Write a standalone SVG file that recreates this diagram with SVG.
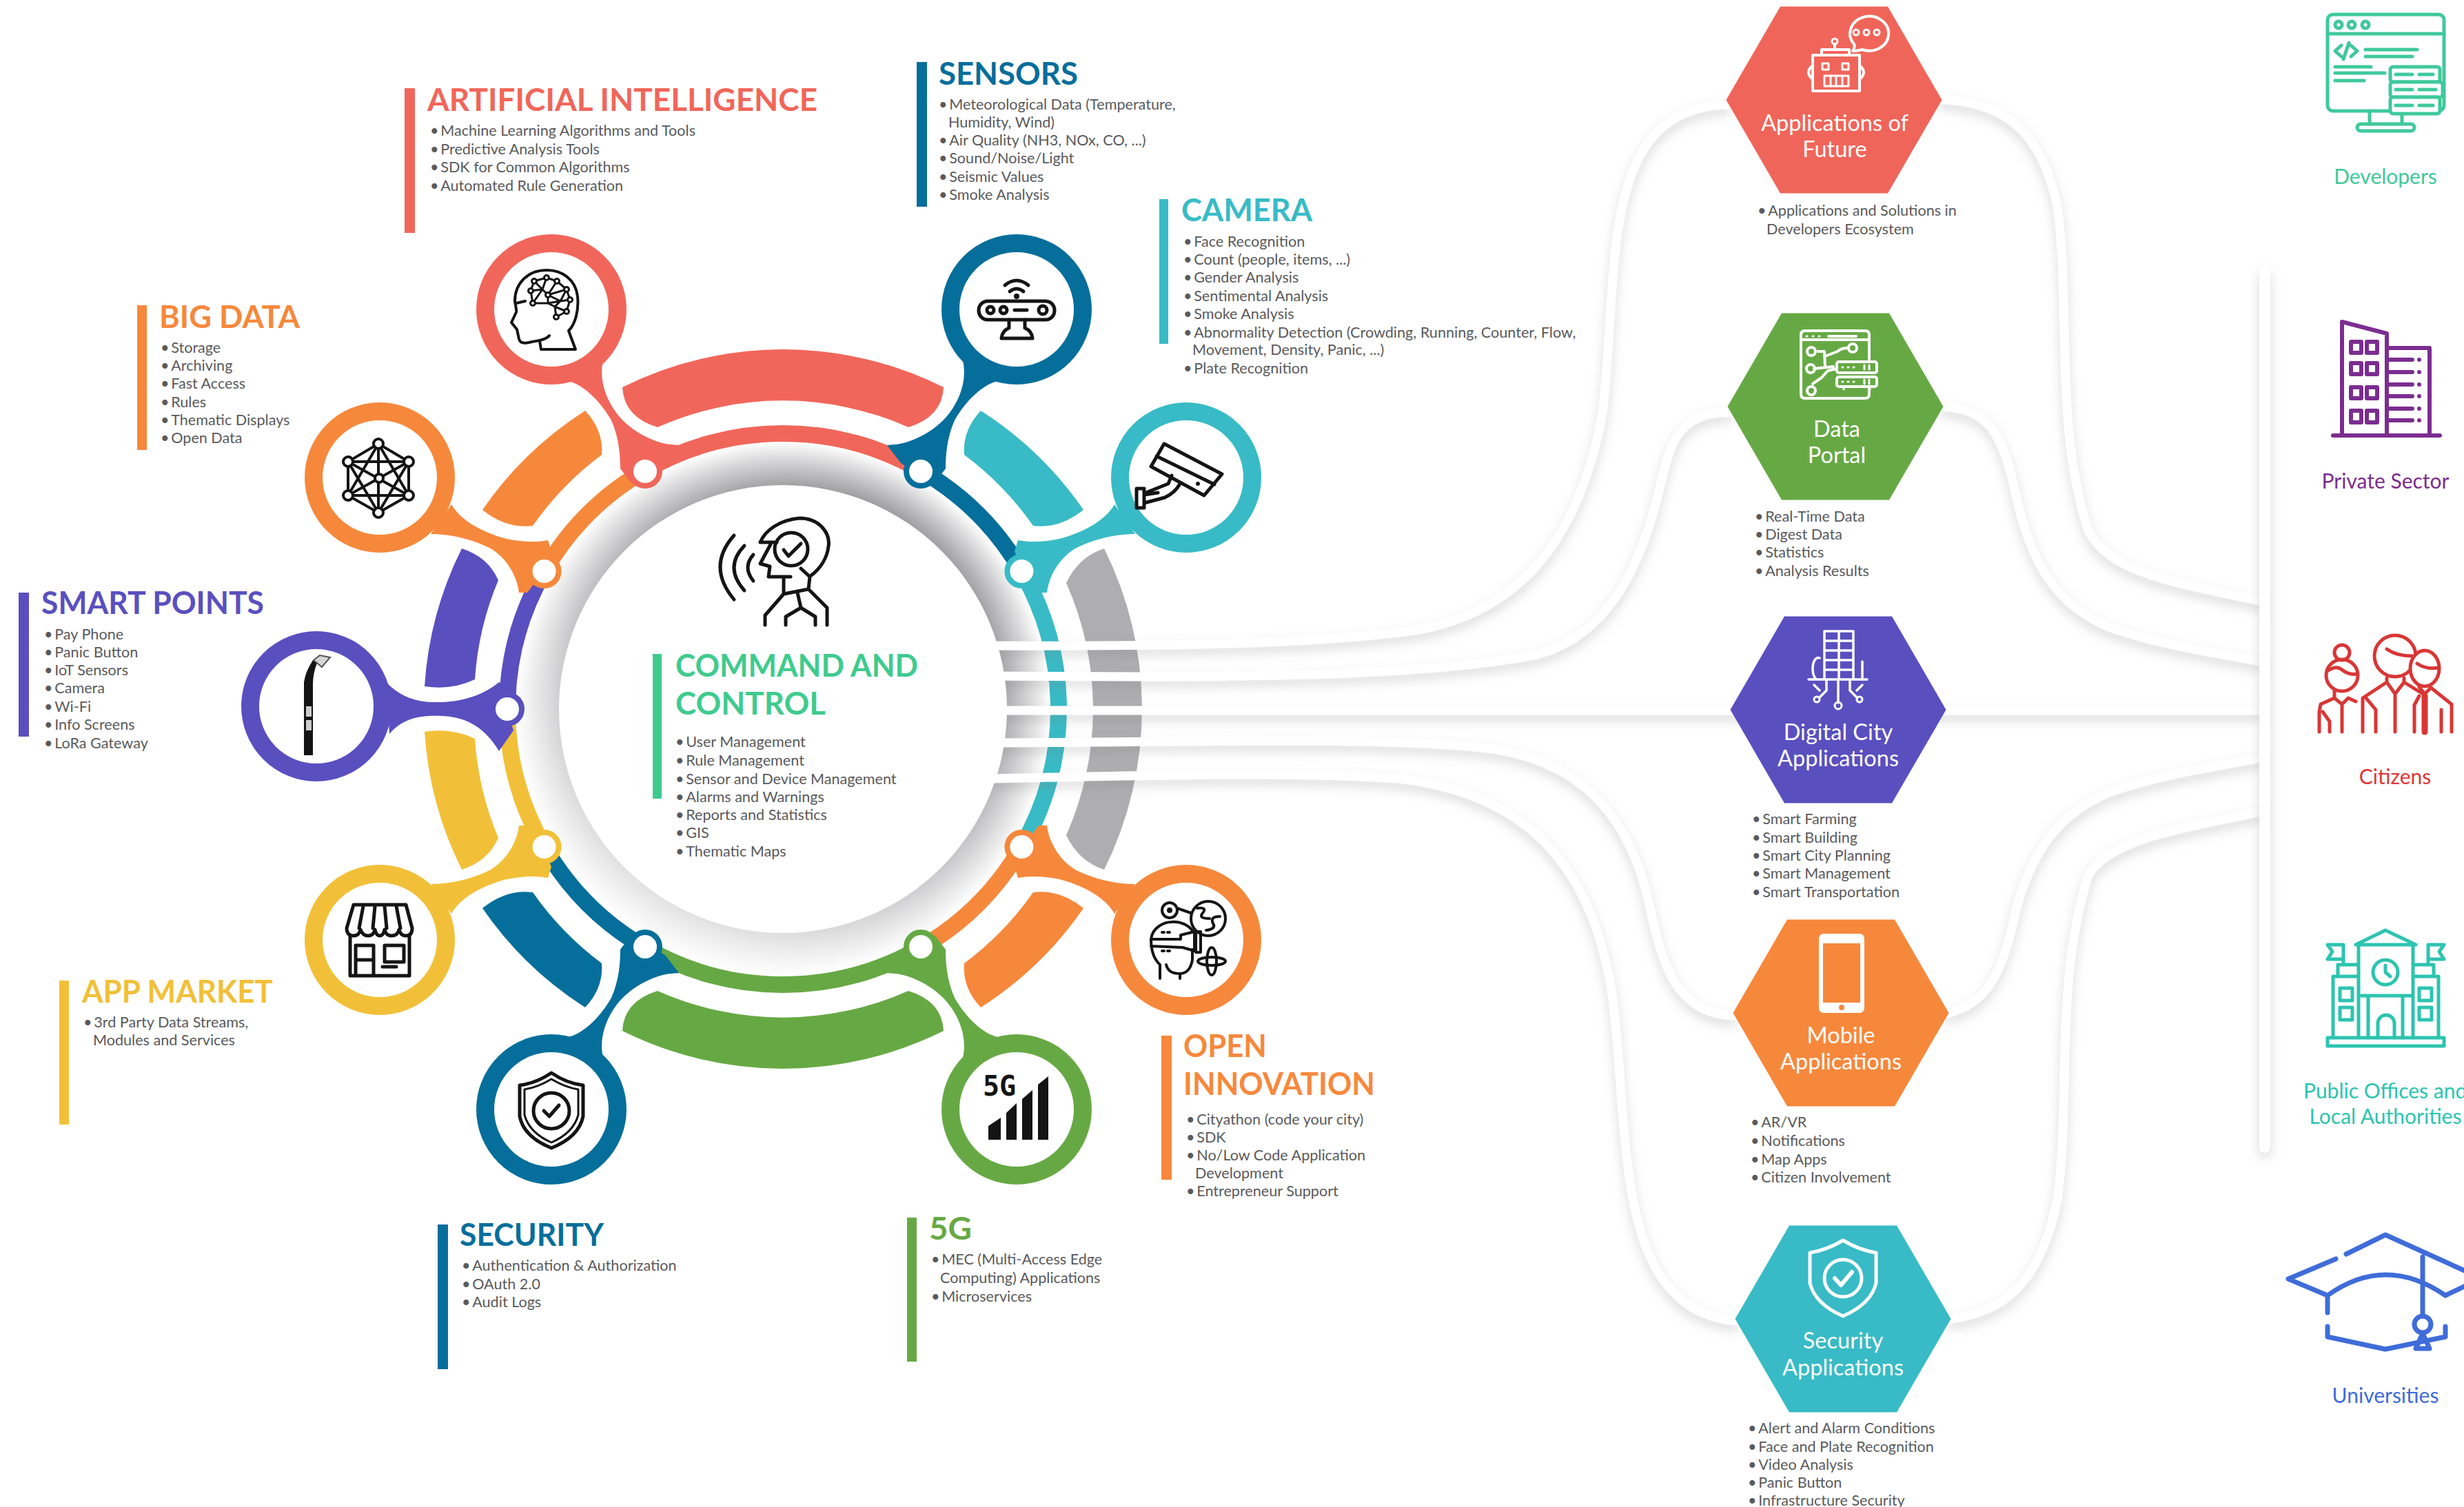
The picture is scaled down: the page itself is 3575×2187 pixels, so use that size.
<svg xmlns="http://www.w3.org/2000/svg" width="3575" height="2187" viewBox="0 0 3575 2187">
<style>
text{font-family:"Lato","Open Sans","Liberation Sans",sans-serif}
.b{font-size:21.6px;fill:#5a5a5c}
.h{font-size:46px;font-weight:700}
.hx{font-size:32.5px;fill:#fff;text-anchor:middle}
.r{font-size:30px;text-anchor:middle}
.ik{fill:none;stroke:#141414;stroke-width:5;stroke-linejoin:round;stroke-linecap:round}
.wi{fill:none;stroke:#fff;stroke-width:4;stroke-linejoin:round;stroke-linecap:round}
.ring{fill:#fff;stroke-width:26}
.dot{fill:#fff;stroke-width:8}
.thin{fill:none;stroke-width:24}
.flow{fill:none;stroke:#fff;stroke-width:13;stroke-linecap:round;filter:url(#sh)}
</style>
<defs>
<filter id="sh" filterUnits="userSpaceOnUse" x="0" y="0" width="3575" height="2187"><feDropShadow dx="0" dy="8" stdDeviation="8" flood-color="#777" flood-opacity=".27"/></filter>
<radialGradient id="halo" gradientUnits="userSpaceOnUse" cx="1136" cy="1029" r="388"><stop offset=".83" stop-color="#929296"/><stop offset="1" stop-color="#fff"/></radialGradient>
<linearGradient id="fade" gradientUnits="userSpaceOnUse" x1="1336" y1="680" x2="936" y2="1380"><stop offset="0" stop-color="#fff"/><stop offset=".5" stop-color="#999"/><stop offset="1" stop-color="#333"/></linearGradient>
<mask id="haloMask" maskUnits="userSpaceOnUse" x="700" y="600" width="900" height="900"><rect x="700" y="600" width="900" height="900" fill="url(#fade)"/></mask>
<path id="tRed" d="M903,562 A522,522 0 0 1 1369,562 Q1367,605 1318,620 A448,448 0 0 0 954,620 Q905,605 903,562 Z"/>
<path id="tOr" d="M700,740 A522,522 0 0 1 849,596 Q876,625 873,660 A450,450 0 0 0 773,763 Q735,768 700,740 Z"/>
<path id="tPu" d="M616,996 A522,522 0 0 1 670,796 Q708,808 723,842 A450,450 0 0 0 689,986 Q655,1002 616,996 Z"/>
<path id="s1" d="M825,553 C845,558 870,580 887,610 C898,635 900,660 900,680 L915,700 L936,690 L965,672 L985,646 L973,645 C950,643 910,625 890,593 C875,570 870,545 875,523 Z"/>
<path id="s2" d="M655,732 C665,750 690,770 735,782 C760,787 780,787 795,784 L800,800 L788,830 L765,860 L753,860 C750,835 735,810 712,796 C690,785 660,775 625,775 Z"/>
<path id="s3" d="M560,990 C585,1015 610,1020 640,1019 C670,1018 700,1010 724,990 L745,1000 L735,1029 L745,1060 L724,1090 C700,1050 670,1040 640,1039 C610,1038 585,1042 565,1065 Z"/>
</defs>
<rect width="3575" height="2187" fill="#fff"/>

<circle cx="1136" cy="1029" r="388" fill="url(#halo)" mask="url(#haloMask)"/>

<g id="connectors">
<use href="#tRed" fill="#F1665A"/>
<use href="#tRed" fill="#66A944" transform="translate(0,2058) scale(1,-1)"/>
<use href="#tOr" fill="#F6883C"/>
<use href="#tOr" fill="#38BBC6" transform="translate(2272,0) scale(-1,1)"/>
<use href="#tOr" fill="#056E9B" transform="translate(0,2058) scale(1,-1)"/>
<use href="#tOr" fill="#F6883C" transform="translate(2272,2058) scale(-1,-1)"/>
<use href="#tPu" fill="#5A4FBF"/>
<use href="#tPu" fill="#F2C038" transform="translate(0,2058) scale(1,-1)"/>
<path fill="#AEAEB1" d="M1602,796 A522,522 0 0 1 1602,1262 Q1565,1250 1547,1212 A450,450 0 0 0 1547,846 Q1565,808 1602,796 Z"/>

<path class="thin" stroke="#F1665A" d="M936,682.6 A400,400 0 0 1 1336,682.6"/>
<path class="thin" stroke="#38BBC6" d="M1482.4,829 A400,400 0 0 1 1482.4,1229"/>
<path class="thin" stroke="#66A944" d="M1336,1375.4 A400,400 0 0 1 936,1375.4"/>
<path class="thin" stroke="#F6883C" d="M789.6,829 A400,400 0 0 1 936,682.6"/>
<path class="thin" stroke="#5A4FBF" d="M736,1029 A400,400 0 0 1 789.6,829"/>
<path class="thin" stroke="#F2C038" d="M789.6,1229 A400,400 0 0 1 736,1029"/>
<path class="thin" stroke="#056E9B" d="M936,1375.4 A400,400 0 0 1 789.6,1229"/>
<path class="thin" stroke="#F6883C" d="M1482.4,1229 A400,400 0 0 1 1336,1375.4"/>
<path class="thin" stroke="#056E9B" d="M1336,682.6 A400,400 0 0 1 1482.4,829"/>

<use href="#s1" fill="#F1665A"/>
<use href="#s1" fill="#056E9B" transform="translate(2272,0) scale(-1,1)"/>
<use href="#s1" fill="#056E9B" transform="translate(0,2058) scale(1,-1)"/>
<use href="#s1" fill="#66A944" transform="translate(2272,2058) scale(-1,-1)"/>
<use href="#s2" fill="#F6883C"/>
<use href="#s2" fill="#38BBC6" transform="translate(2272,0) scale(-1,1)"/>
<use href="#s2" fill="#F2C038" transform="translate(0,2058) scale(1,-1)"/>
<use href="#s2" fill="#F6883C" transform="translate(2272,2058) scale(-1,-1)"/>
<use href="#s3" fill="#5A4FBF"/>

<path class="flow" d="M1440,937 C1700,938 1900,935 2052,915 C2200,890 2290,790 2325,600 C2350,400 2315,158 2505,152"/>
<path class="flow" d="M1440,981 C1750,983 2050,985 2230,950 C2340,920 2385,810 2410,700 C2425,635 2440,600 2507,598"/>
<path class="flow" d="M1440,1031 L3280,1031"/>
<path class="flow" d="M1440,1078 C1800,1076 2000,1070 2150,1085 C2290,1100 2360,1180 2390,1300 C2410,1390 2425,1470 2515,1474"/>
<path class="flow" d="M1440,1130 C1700,1124 1900,1120 2030,1130 C2200,1150 2310,1240 2340,1450 C2365,1650 2340,1900 2518,1917"/>
<path class="flow" d="M2818,144 C2900,150 2960,180 2985,300 C3005,440 2980,620 3030,770 C3060,830 3150,845 3280,872"/>
<path class="flow" d="M2820,590 C2880,595 2905,620 2925,720 C2950,830 2990,880 3060,910 C3130,935 3200,945 3280,960"/>
<path class="flow" d="M2827,1470 C2880,1455 2905,1420 2925,1320 C2950,1230 2990,1180 3060,1150 C3130,1125 3200,1115 3280,1100"/>
<path class="flow" d="M2830,1914 C2900,1905 2960,1870 2985,1740 C3005,1600 2980,1430 3030,1270 C3060,1220 3150,1205 3280,1178"/>
<rect x="3278" y="386" width="16" height="1287" rx="8" fill="#fff" filter="url(#sh)"/>
</g>

<g id="command-control">
<circle cx="1136" cy="1029" r="325" fill="#fff"/>
<path class="ik" d="M1065,777 Q1025,822 1065,870 M1080,792 Q1050,823 1080,857 M1093,805 Q1077,823 1093,843"/>
<path class="ik" d="M1127,787 L1103,787 C1110,770 1130,755 1160,752 C1190,752 1205,775 1202,793 C1200,810 1190,825 1177,835 M1118,790 L1103,818 L1117,822 L1115,837 L1147,837 M1137,838 L1137,862 L1173,855 L1175,837 L1162,825 M1137,862 L1110,893 L1110,907 M1173,855 L1200,882 L1200,907 M1157,860 L1162,882 M1140,907 L1140,895 L1162,882 L1183,895 L1183,907"/>
<circle class="ik" cx="1148" cy="797" r="24"/>
<path class="ik" d="M1137,798 L1144,807 L1162,789"/>
<rect x="947" y="949" width="13" height="210" fill="#3FCB8E"/>
<text class="h" fill="#3FCB8E" x="980" y="982" textLength="352" lengthAdjust="spacingAndGlyphs">COMMAND AND</text>
<text class="h" fill="#3FCB8E" x="980" y="1037" textLength="218" lengthAdjust="spacingAndGlyphs">CONTROL</text>
<text class="b" x="980" y="1084">•&#8201;User Management</text>
<text class="b" x="980" y="1111">•&#8201;Rule Management</text>
<text class="b" x="980" y="1138">•&#8201;Sensor and Device Management</text>
<text class="b" x="980" y="1164">•&#8201;Alarms and Warnings</text>
<text class="b" x="980" y="1190">•&#8201;Reports and Statistics</text>
<text class="b" x="980" y="1216">•&#8201;GIS</text>
<text class="b" x="980" y="1243">•&#8201;Thematic Maps</text>
</g>

<g id="node-ai">
<circle class="dot" cx="936" cy="684" r="21" stroke="#F1665A"/>
<circle class="ring" cx="800" cy="449" r="96" stroke="#F1665A"/>
<path class="ik" style="stroke-width:4" d="M785,507 L835,507 L825,480 C835,470 840,450 838,430 C835,405 815,392 793,392 C765,392 747,412 747,437 C748,445 750,450 749,453 L742,468 L750,478 L753,492 C755,500 765,498 772,496 C785,494 793,492 797,487 M783,495 L785,507 M749,440 L762,437"/>
<path class="ik" style="stroke-width:3" d="M775,408 L793,403 L808,408 L822,420 L827,435 L822,452 L807,460 L805,445 L813,437 L827,435 M770,422 L775,408 L787,420 L793,403 M770,422 L787,420 L795,428 L808,408 M770,422 L773,440 L795,440 L795,428 L822,420 M787,420 L773,440 M795,440 L805,445 L822,452 M795,428 L813,437 L795,440 M813,437 L822,420"/>
<g fill="#fff" stroke="#141414" stroke-width="3"><circle cx="775" cy="408" r="3.5"/><circle cx="793" cy="403" r="3.5"/><circle cx="808" cy="408" r="3.5"/><circle cx="822" cy="420" r="3.5"/><circle cx="827" cy="435" r="3.5"/><circle cx="822" cy="452" r="3.5"/><circle cx="807" cy="460" r="3.5"/><circle cx="770" cy="422" r="3.5"/><circle cx="773" cy="440" r="3.5"/><circle cx="795" cy="428" r="3.5"/></g>
<rect x="587" y="128" width="15" height="210" fill="#F1665A"/>
<text class="h" fill="#F1665A" x="620" y="161" textLength="566" lengthAdjust="spacingAndGlyphs">ARTIFICIAL INTELLIGENCE</text>
<text class="b" x="624" y="197">•&#8201;Machine Learning Algorithms and Tools</text>
<text class="b" x="624" y="224">•&#8201;Predictive Analysis Tools</text>
<text class="b" x="624" y="250">•&#8201;SDK for Common Algorithms</text>
<text class="b" x="624" y="277">•&#8201;Automated Rule Generation</text>
</g>

<g id="node-bigdata">
<circle class="dot" cx="789.6" cy="829" r="21" stroke="#F6883C"/>
<circle class="ring" cx="551" cy="693" r="96" stroke="#F6883C"/>
<path class="ik" style="stroke-width:4" d="M549,644 L593,670 L593,719 L549,744 L505,719 L505,670 Z M549,644 L593,719 L505,719 Z M549,744 L593,670 L505,670 Z M549,644 L549,744 M505,670 L593,719 M593,670 L505,719"/>
<g fill="#fff" stroke="#141414" stroke-width="4"><circle cx="549" cy="644" r="7"/><circle cx="593" cy="670" r="7"/><circle cx="593" cy="719" r="7"/><circle cx="549" cy="744" r="7"/><circle cx="505" cy="719" r="7"/><circle cx="505" cy="670" r="7"/><circle cx="550" cy="694" r="6"/></g>
<rect x="199" y="443" width="14" height="210" fill="#F6883C"/>
<text class="h" fill="#F6883C" x="231" y="476" textLength="204" lengthAdjust="spacingAndGlyphs">BIG DATA</text>
<text class="b" x="233" y="512">•&#8201;Storage</text>
<text class="b" x="233" y="538">•&#8201;Archiving</text>
<text class="b" x="233" y="564">•&#8201;Fast Access</text>
<text class="b" x="233" y="591">•&#8201;Rules</text>
<text class="b" x="233" y="617">•&#8201;Thematic Displays</text>
<text class="b" x="233" y="643">•&#8201;Open Data</text>
</g>

<g id="node-smartpoints">
<circle class="dot" cx="736" cy="1029" r="21" stroke="#5A4FBF"/>
<circle class="ring" cx="459" cy="1025" r="96" stroke="#5A4FBF"/>
<path fill="#141414" d="M441,1096 L441,990 Q443,975 454,958 L460,962 Q454,978 454,992 L454,1096 Z"/>
<path fill="#d5d5d5" stroke="#555" stroke-width="2" d="M455,958 L464,951 L479,954 L467,968 Z"/>
<rect x="444" y="1025" width="8" height="15" fill="#ccc"/><rect x="444" y="1045" width="8" height="15" fill="#ccc"/>
<rect x="27" y="860" width="15" height="209" fill="#5A4FBF"/>
<text class="h" fill="#5A4FBF" x="60" y="891" textLength="323" lengthAdjust="spacingAndGlyphs">SMART POINTS</text>
<text class="b" x="64" y="928">•&#8201;Pay Phone</text>
<text class="b" x="64" y="954">•&#8201;Panic Button</text>
<text class="b" x="64" y="980">•&#8201;IoT Sensors</text>
<text class="b" x="64" y="1006">•&#8201;Camera</text>
<text class="b" x="64" y="1033">•&#8201;Wi-Fi</text>
<text class="b" x="64" y="1059">•&#8201;Info Screens</text>
<text class="b" x="64" y="1086">•&#8201;LoRa Gateway</text>
</g>

<g id="node-appmarket">
<circle class="dot" cx="789.6" cy="1229" r="21" stroke="#F2C038"/>
<circle class="ring" cx="551" cy="1364" r="96" stroke="#F2C038"/>
<path class="ik" d="M513,1313 L589,1313 L598,1347 Q598,1358 589,1358 Q581,1358 579,1349 Q577,1358 568,1358 Q560,1358 558,1349 Q556,1358 551,1358 Q546,1358 544,1349 Q542,1358 534,1358 Q526,1358 523,1349 Q521,1358 513,1358 Q503,1358 503,1347 Z M527,1315 L521,1347 M544,1315 L541,1347 M558,1315 L561,1347 M575,1315 L581,1347"/>
<path class="ik" d="M508,1358 L508,1416 L594,1416 L594,1358 M516,1416 L516,1372 L542,1372 L542,1416 M516,1393 L542,1393 M558,1372 L586,1372 L586,1396 L558,1396 Z M555,1403 L575,1403"/>
<rect x="86" y="1423" width="14" height="209" fill="#F2C038"/>
<text class="h" fill="#F2C038" x="119" y="1455" textLength="277" lengthAdjust="spacingAndGlyphs">APP MARKET</text>
<text class="b" x="121" y="1491">•&#8201;3rd Party Data Streams,</text>
<text class="b" x="135" y="1517">Modules and Services</text>
</g>

<g id="node-security">
<circle class="dot" cx="936" cy="1374" r="21" stroke="#056E9B"/>
<circle class="ring" cx="800" cy="1610" r="96" stroke="#056E9B"/>
<path class="ik" d="M800,1557 Q822,1572 846,1575 L846,1620 Q840,1650 800,1666 Q760,1650 754,1620 L754,1575 Q778,1572 800,1557 Z"/>
<path class="ik" d="M800,1566 Q820,1578 839,1581 L839,1618 Q832,1644 800,1658 Q768,1644 761,1618 L761,1581 Q780,1578 800,1566 Z" style="stroke-width:3"/>
<circle class="ik" cx="800" cy="1612" r="26"/>
<path class="ik" d="M789,1612 L797,1620 L811,1604"/>
<rect x="635" y="1777" width="15" height="210" fill="#056E9B"/>
<text class="h" fill="#056E9B" x="667" y="1808" textLength="209" lengthAdjust="spacingAndGlyphs">SECURITY</text>
<text class="b" x="670" y="1844">•&#8201;Authentication &amp; Authorization</text>
<text class="b" x="670" y="1871">•&#8201;OAuth 2.0</text>
<text class="b" x="670" y="1897">•&#8201;Audit Logs</text>
</g>

<g id="node-5g">
<circle class="dot" cx="1336" cy="1374" r="21" stroke="#66A944"/>
<circle class="ring" cx="1475" cy="1610" r="96" stroke="#66A944"/>
<text x="1426" y="1590" font-size="40" font-weight="700" fill="#141414" style="font-family:'DejaVu Sans Mono',monospace">5G</text>
<path fill="#141414" d="M1434,1654 L1434,1634 L1452,1622 L1452,1654 Z M1460,1654 L1460,1615 L1475,1601 L1475,1654 Z M1483,1654 L1483,1595 L1498,1582 L1498,1654 Z M1506,1654 L1506,1574 L1521,1562 L1521,1654 Z"/>
<rect x="1316" y="1767" width="14" height="209" fill="#66A944"/>
<text class="h" fill="#66A944" x="1348" y="1799" textLength="62" lengthAdjust="spacingAndGlyphs">5G</text>
<text class="b" x="1351" y="1835">•&#8201;MEC (Multi-Access Edge</text>
<text class="b" x="1364" y="1862">Computing) Applications</text>
<text class="b" x="1351" y="1889">•&#8201;Microservices</text>
</g>

<g id="node-open">
<circle class="dot" cx="1482.4" cy="1229" r="21" stroke="#F6883C"/>
<circle class="ring" cx="1721" cy="1364" r="96" stroke="#F6883C"/>
<g class="ik" style="stroke-width:4">
<path d="M1683,1420 L1683,1400 C1672,1390 1670,1375 1670,1363 C1672,1345 1690,1338 1700,1338 C1712,1337 1725,1342 1731,1352 M1670,1363 L1713,1363 L1713,1357 L1733,1352 L1733,1380 L1716,1375 L1670,1373 M1692,1400 C1695,1412 1705,1413 1713,1413 C1722,1412 1728,1405 1730,1393 L1730,1378 M1712,1413 L1712,1420 M1708,1318 L1728,1325"/>
<rect x="1735" y="1352" width="7" height="30"/>
<circle cx="1753" cy="1333" r="25"/>
<path d="M1737,1318 Q1752,1316 1745,1325 Q1738,1333 1755,1333 M1770,1330 Q1755,1330 1760,1340 Q1765,1348 1750,1350"/>
<circle cx="1697" cy="1321" r="11"/>
<ellipse cx="1758" cy="1395" rx="7" ry="20"/>
<ellipse cx="1758" cy="1395" rx="20" ry="6"/>
<path d="M1686,1353 L1700,1353 M1686,1380 L1700,1380" stroke-dasharray="3 5"/>
</g>
<circle cx="1697" cy="1321" r="4" fill="#141414"/>
<rect x="1685" y="1503" width="15" height="209" fill="#F6883C"/>
<text class="h" fill="#F6883C" x="1717" y="1534" textLength="121" lengthAdjust="spacingAndGlyphs">OPEN</text>
<text class="h" fill="#F6883C" x="1717" y="1589" textLength="278" lengthAdjust="spacingAndGlyphs">INNOVATION</text>
<text class="b" x="1721" y="1632">•&#8201;Cityathon (code your city)</text>
<text class="b" x="1721" y="1658">•&#8201;SDK</text>
<text class="b" x="1721" y="1684">•&#8201;No/Low Code Application</text>
<text class="b" x="1734" y="1710">Development</text>
<text class="b" x="1721" y="1736">•&#8201;Entrepreneur Support</text>
</g>

<g id="node-sensors">
<circle class="dot" cx="1336" cy="684" r="21" stroke="#056E9B"/>
<circle class="ring" cx="1475" cy="449" r="96" stroke="#056E9B"/>
<path class="ik" d="M1458,414 Q1475,400 1492,414 M1465,423 Q1475,415 1485,423"/><circle cx="1475" cy="430" r="4" fill="#141414"/>
<rect class="ik" x="1420" y="437" width="110" height="27" rx="13"/>
<circle class="ik" cx="1437" cy="450" r="5"/><circle class="ik" cx="1456" cy="450" r="5"/><circle class="ik" cx="1513" cy="450" r="6"/>
<path class="ik" d="M1472,450 L1490,450 M1464,464 L1464,476 Q1454,480 1453,491 L1498,491 Q1497,480 1487,476 L1487,464"/>
<rect x="1330" y="90" width="15" height="210" fill="#056E9B"/>
<text class="h" fill="#056E9B" x="1362" y="123" textLength="202" lengthAdjust="spacingAndGlyphs">SENSORS</text>
<text class="b" x="1362" y="159">•&#8201;Meteorological Data (Temperature,</text>
<text class="b" x="1376" y="185">Humidity, Wind)</text>
<text class="b" x="1362" y="211">•&#8201;Air Quality (NH3, NOx, CO, ...)</text>
<text class="b" x="1362" y="237">•&#8201;Sound/Noise/Light</text>
<text class="b" x="1362" y="264">•&#8201;Seismic Values</text>
<text class="b" x="1362" y="290">•&#8201;Smoke Analysis</text>
</g>

<g id="node-camera">
<circle class="dot" cx="1482.4" cy="829" r="21" stroke="#38BBC6"/>
<circle class="ring" cx="1721" cy="693" r="96" stroke="#38BBC6"/>
<path class="ik" d="M1689,644 L1773,688 L1747,719 L1670,677 Z M1678,662 L1762,703 M1700,690 L1695,702 L1665,714 M1649,709 L1649,737 L1660,737 L1660,709 Z M1660,718 L1680,715 M1660,730 L1690,722 Q1705,715 1712,702"/>
<circle cx="1738" cy="702" r="3" fill="#141414"/>
<rect x="1682" y="289" width="13" height="210" fill="#38BBC6"/>
<text class="h" fill="#38BBC6" x="1714" y="321" textLength="190" lengthAdjust="spacingAndGlyphs">CAMERA</text>
<text class="b" x="1717" y="358">•&#8201;Face Recognition</text>
<text class="b" x="1717" y="384">•&#8201;Count (people, items, ...)</text>
<text class="b" x="1717" y="410">•&#8201;Gender Analysis</text>
<text class="b" x="1717" y="437">•&#8201;Sentimental Analysis</text>
<text class="b" x="1717" y="463">•&#8201;Smoke Analysis</text>
<text class="b" x="1717" y="490">•&#8201;Abnormality Detection (Crowding, Running, Counter, Flow,</text>
<text class="b" x="1730" y="515">Movement, Density, Panic, ...)</text>
<text class="b" x="1717" y="542">•&#8201;Plate Recognition</text>
</g>

<g id="hex-future">
<polygon fill="#F0655A" points="2504.5,145 2583,9.5 2739,9.5 2817.5,145 2739,280.5 2583,280.5"/>
<rect class="wi" x="2630" y="80" width="68" height="52"/>
<path class="wi" d="M2643,80 L2643,72 L2683,72 L2683,80 M2662,72 L2662,64 M2630,95 Q2618,105 2630,115 M2698,95 Q2710,105 2698,115 M2688,74 Q2692,68 2690,64 A28,25 0 1 1 2702,72 Q2695,74 2688,74 Z"/>
<circle class="wi" style="stroke-width:3" cx="2662" cy="60" r="4"/>
<rect class="wi" style="stroke-width:3" x="2644" y="92" width="9" height="9"/><rect class="wi" style="stroke-width:3" x="2673" y="92" width="9" height="9"/><rect class="wi" style="stroke-width:3" x="2647" y="110" width="35" height="15"/>
<path class="wi" style="stroke-width:3" d="M2656,110 L2656,125 M2664,110 L2664,125 M2673,110 L2673,125"/>
<circle class="wi" style="stroke-width:3" cx="2693" cy="47" r="4"/><circle class="wi" style="stroke-width:3" cx="2708" cy="47" r="4"/><circle class="wi" style="stroke-width:3" cx="2723" cy="47" r="4"/>
<text class="hx" x="2662" y="190">Applications of</text>
<text class="hx" x="2662" y="228">Future</text>
<text class="b" x="2550" y="313">•&#8201;Applications and Solutions in</text>
<text class="b" x="2563" y="340">Developers Ecosystem</text>
</g>

<g id="hex-portal">
<polygon fill="#66A944" points="2506.5,590 2585,454.5 2741,454.5 2819.5,590 2741,725.5 2585,725.5"/>
<path class="wi" d="M2712,525 L2712,486 Q2712,480 2706,480 L2619,480 Q2613,480 2613,486 L2613,572 Q2613,578 2619,578 L2706,578 Q2712,578 2712,572 L2712,563 M2613,493 L2712,493 M2653,488 L2693,488 M2638,510 L2647,510 L2648,532 M2632,535 L2660,532 M2648,517 L2666,510 Q2672,505 2680,505 M2630,557 L2643,548 L2652,538 L2665,535"/>
<path class="wi" style="stroke-width:3" d="M2621,488 L2622,488 M2630,488 L2631,488 M2639,488 L2640,488 M2673,533 L2674,533 M2681,533 L2682,533 M2689,533 L2690,533 M2705,530 L2705,535 M2712,530 L2712,535 M2673,554 L2674,554 M2681,554 L2682,554 M2689,554 L2690,554 M2705,551 L2705,556 M2712,551 L2712,556 M2675,560 L2675,565 M2713,560 L2713,565"/>
<rect class="wi" x="2665" y="525" width="58" height="16" rx="3" fill="#66A944" style="fill:#66A944"/><rect class="wi" x="2665" y="547" width="58" height="14" rx="3" style="fill:#66A944"/>
<path class="wi" style="stroke-width:3" d="M2673,533 L2674,533 M2681,533 L2682,533 M2689,533 L2690,533 M2705,530 L2705,536 M2712,530 L2712,536 M2673,554 L2674,554 M2681,554 L2682,554 M2689,554 L2690,554 M2705,551 L2705,557 M2712,551 L2712,557"/>
<circle class="wi" cx="2628" cy="510" r="6"/><circle class="wi" cx="2627" cy="535" r="6"/><circle class="wi" cx="2628" cy="567" r="6"/><circle class="wi" cx="2688" cy="505" r="6"/>
<text class="hx" x="2665" y="634">Data</text>
<text class="hx" x="2665" y="672">Portal</text>
<text class="b" x="2546" y="757">•&#8201;Real-Time Data</text>
<text class="b" x="2546" y="783">•&#8201;Digest Data</text>
<text class="b" x="2546" y="809">•&#8201;Statistics</text>
<text class="b" x="2546" y="836">•&#8201;Analysis Results</text>
</g>

<g id="hex-city">
<polygon fill="#5A4FBF" points="2510.5,1030 2589,894.5 2745,894.5 2823.5,1030 2745,1165.5 2589,1165.5"/>
<path class="wi" style="stroke-width:3.5" d="M2647,986 L2647,916 L2689,916 L2689,986 M2647,930 L2689,930 M2647,944 L2689,944 M2647,958 L2689,958 M2647,972 L2689,972 M2668,916 L2668,986 M2624,986 L2709,986 M2702,986 L2702,960 M2636,986 A8,16 0 1 1 2640,955 M2667,986 L2667,1020 M2650,986 L2650,1002 L2640,1012 M2684,986 L2684,1002 L2694,1012 M2632,994 L2640,1002 M2702,994 L2694,1002"/>
<circle class="wi" style="stroke-width:3" cx="2667" cy="1024" r="5"/><circle class="wi" style="stroke-width:3" cx="2636" cy="1015" r="4"/><circle class="wi" style="stroke-width:3" cx="2698" cy="1015" r="4"/>
<text class="hx" x="2667" y="1074">Digital City</text>
<text class="hx" x="2667" y="1112">Applications</text>
<text class="b" x="2542" y="1196">•&#8201;Smart Farming</text>
<text class="b" x="2542" y="1223">•&#8201;Smart Building</text>
<text class="b" x="2542" y="1249">•&#8201;Smart City Planning</text>
<text class="b" x="2542" y="1275">•&#8201;Smart Management</text>
<text class="b" x="2542" y="1302">•&#8201;Smart Transportation</text>
</g>

<g id="hex-mobile">
<polygon fill="#F6883C" points="2514.5,1470 2593,1334.5 2749,1334.5 2827.5,1470 2749,1605.5 2593,1605.5"/>
<rect x="2639" y="1355" width="66" height="115" rx="7" fill="#fff"/><rect x="2645" y="1369" width="54" height="86" fill="#F6883C"/><circle cx="2672" cy="1462" r="4" fill="#F6883C"/>
<text class="hx" x="2671" y="1514">Mobile</text>
<text class="hx" x="2671" y="1552">Applications</text>
<text class="b" x="2540" y="1636">•&#8201;AR/VR</text>
<text class="b" x="2540" y="1663">•&#8201;Notifications</text>
<text class="b" x="2540" y="1690">•&#8201;Map Apps</text>
<text class="b" x="2540" y="1716">•&#8201;Citizen Involvement</text>
</g>

<g id="hex-security">
<polygon fill="#38BBC6" points="2517.5,1914 2596,1778.5 2752,1778.5 2830.5,1914 2752,2049.5 2596,2049.5"/>
<path class="wi" style="stroke-width:5" d="M2674,1800 Q2697,1814 2722,1818 L2722,1862 Q2715,1892 2674,1910 Q2633,1892 2626,1862 L2626,1818 Q2651,1814 2674,1800 Z"/>
<circle class="wi" style="stroke-width:5" cx="2674" cy="1855" r="27"/>
<path class="wi" style="stroke-width:6" d="M2662,1855 L2671,1865 L2687,1846"/>
<text class="hx" x="2674" y="1957">Security</text>
<text class="hx" x="2674" y="1996">Applications</text>
<text class="b" x="2536" y="2080">•&#8201;Alert and Alarm Conditions</text>
<text class="b" x="2536" y="2107">•&#8201;Face and Plate Recognition</text>
<text class="b" x="2536" y="2133">•&#8201;Video Analysis</text>
<text class="b" x="2536" y="2159">•&#8201;Panic Button</text>
<text class="b" x="2536" y="2185">•&#8201;Infrastructure Security</text>
</g>

<g id="audience-developers" fill="none" stroke="#3FC99A" stroke-width="5" stroke-linecap="round" stroke-linejoin="round">
<rect x="3377" y="21" width="169" height="140" rx="8"/>
<path d="M3377,49 L3546,49 M3397,66 L3388,74 L3397,82 M3408,62 L3400,86 M3411,66 L3420,74 L3411,82 M3432,72 L3507,72 M3432,82 L3500,82 M3388,97 L3440,97 M3388,106 L3460,106 M3388,117 L3430,117 M3438,161 L3438,180 M3485,165 L3485,180"/>
<circle cx="3393" cy="36" r="5"/><circle cx="3412" cy="36" r="5"/><circle cx="3432" cy="36" r="5"/>
<g fill="#fff"><rect x="3468" y="97" width="72" height="22" rx="4"/><rect x="3468" y="119" width="76" height="22" rx="4"/><rect x="3468" y="141" width="72" height="24" rx="4"/></g>
<path d="M3476,108 L3500,108 M3510,108 L3530,108 M3476,130 L3500,130 M3510,130 L3534,130 M3476,153 L3500,153 M3510,153 L3530,153"/>
<rect x="3420" y="180" width="83" height="10" rx="5"/>
<text class="r" x="3461" y="267" fill="#3FC99A" stroke="none">Developers</text>
</g>

<g id="audience-private" fill="none" stroke="#7B2D90" stroke-width="6" stroke-linecap="round" stroke-linejoin="round">
<path d="M3385,632 L3540,632 M3398,632 L3398,467 L3463,484 L3463,632 M3463,505 L3525,505 L3525,632 M3467,522 L3500,522 M3467,540 L3500,540 M3467,558 L3500,558 M3467,575 L3500,575 M3467,593 L3500,593 M3467,610 L3500,610 M3510,522 L3510,522 M3510,540 L3510,540 M3510,558 L3510,558 M3510,575 L3510,575 M3510,593 L3510,593 M3510,610 L3510,610"/>
<rect x="3411" y="496" width="15" height="16"/><rect x="3434" y="496" width="15" height="16"/><rect x="3411" y="527" width="15" height="16"/><rect x="3434" y="527" width="15" height="16"/><rect x="3411" y="562" width="15" height="16"/><rect x="3434" y="562" width="15" height="16"/><rect x="3411" y="596" width="15" height="17"/><rect x="3434" y="596" width="15" height="17"/>
<text class="r" x="3461" y="709" fill="#7B2D90" stroke="none">Private Sector</text>
</g>

<g id="audience-citizens" fill="none" stroke="#D93636" stroke-width="5" stroke-linecap="round" stroke-linejoin="round">
<circle cx="3398" cy="980" r="23"/><circle cx="3398" cy="947" r="11"/>
<path d="M3378,973 Q3390,965 3398,972 Q3408,980 3420,978 M3387,1002 L3387,1013 L3398,1022 L3407,1013 L3418,1018 M3387,1013 L3367,1022 L3365,1033 L3365,1062 M3370,1033 L3380,1047 L3380,1062 M3398,1022 L3398,1062"/>
<circle cx="3475" cy="952" r="30"/>
<path d="M3463,942 Q3477,952 3500,952 M3463,984 L3463,990 L3475,1007 L3488,990 L3488,984 M3475,1007 L3475,1062 M3463,990 L3428,1013 L3428,1062 M3432,1012 L3447,1030 L3447,1062 M3488,990 L3517,1008"/>
<ellipse cx="3518" cy="970" rx="21" ry="26" fill="#fff"/>
<path d="M3507,963 Q3520,972 3538,969 M3510,997 L3518,1007 L3527,998 L3557,1022 L3557,1062 M3542,1030 L3542,1062 M3503,1023 L3503,1062 M3503,1023 L3510,1010"/>
<path d="M3518,1010 L3518,1062" stroke-width="9"/>
<text class="r" x="3475" y="1138" fill="#E03535" stroke="none">Citizens</text>
</g>

<g id="audience-public" fill="none" stroke="#2CC4B0" stroke-width="5" stroke-linecap="round" stroke-linejoin="round">
<rect x="3377" y="1506" width="169" height="12"/>
<path d="M3385,1506 L3385,1417 L3422,1417 M3538,1506 L3538,1417 L3501,1417 M3422,1506 L3422,1371 L3501,1371 L3501,1506 M3418,1371 L3461,1350 L3505,1371 M3422,1445 L3501,1445 M3436,1445 L3436,1506 M3486,1445 L3486,1506 M3392,1417 L3392,1400 L3422,1400 M3531,1417 L3531,1400 L3501,1400 M3400,1400 L3400,1371 L3377,1371 L3384,1381 L3377,1392 L3400,1392 M3523,1400 L3523,1371 L3546,1371 L3539,1381 L3546,1392 L3523,1392 M3450,1506 L3450,1485 A12,12 0 0 1 3474,1485 L3474,1506"/>
<circle cx="3461" cy="1411" r="18"/><path d="M3461,1401 L3461,1411 L3468,1417"/>
<rect x="3395" y="1434" width="18" height="18"/><rect x="3395" y="1462" width="18" height="18"/><rect x="3510" y="1434" width="18" height="18"/><rect x="3510" y="1462" width="18" height="18"/>
<text x="3342" y="1594" font-size="30" fill="#2CC4B0" stroke="none">Public Offices and</text>
<text class="r" x="3461" y="1631" fill="#2CC4B0" stroke="none">Local Authorities</text>
</g>

<g id="audience-universities" fill="none" stroke="#3F6CD9" stroke-width="7" stroke-linecap="round" stroke-linejoin="round">
<path d="M3389,1827 L3320,1856 L3377,1880 M3404,1820 L3461,1792 L3600,1855 L3548,1880 M3377,1880 Q3461,1820 3548,1880 M3377,1880 L3377,1905 M3377,1925 L3377,1940 L3461,1958 L3548,1940 L3548,1925 M3515,1824 L3515,1910"/>
<circle cx="3515" cy="1922" r="12"/>
<path d="M3515,1935 L3505,1957 L3525,1957 Z"/>
<text class="r" x="3461" y="2036" fill="#3F6CD9" stroke="none">Universities</text>
</g>
</svg>
